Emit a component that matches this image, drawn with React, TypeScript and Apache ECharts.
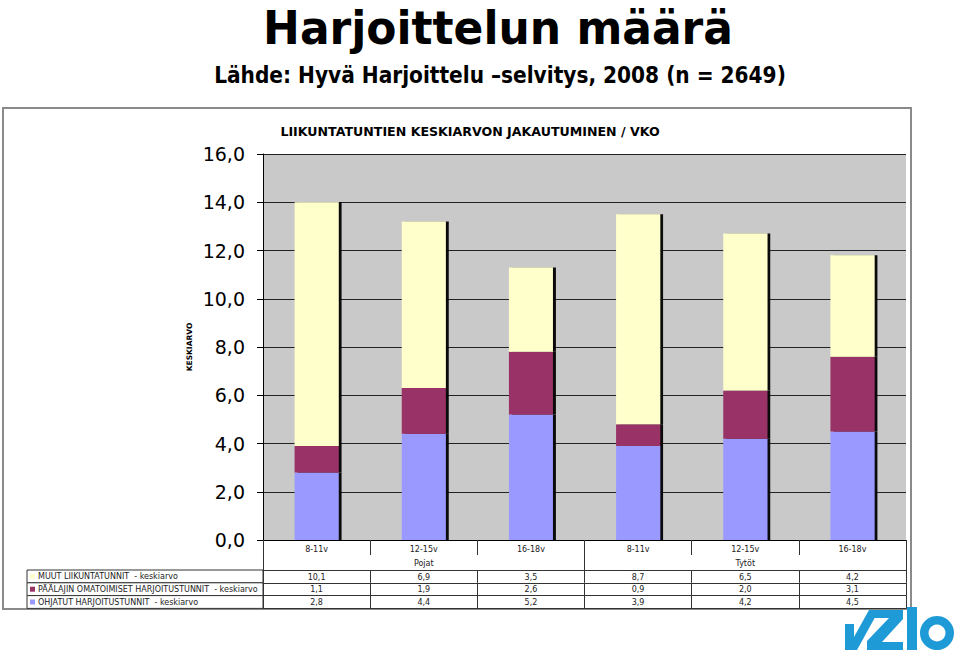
import React, { useEffect, useRef } from 'react';
import * as echarts from 'echarts';

const categories = ['8-11v', '12-15v', '16-18v', '8-11v', '12-15v', '16-18v'];
const groups = ['Pojat', 'Tytöt'];
const seriesNames = [
  'MUUT LIIKUNTATUNNIT  - keskiarvo',
  'PÄÄLAJIN OMATOIMISET HARJOITUSTUNNIT  - keskiarvo',
  'OHJATUT HARJOITUSTUNNIT  - keskiarvo',
];
const seriesColors = ['#FFFFCC', '#993366', '#9999FF'];
const muut = [10.1, 6.9, 3.5, 8.7, 6.5, 4.2];
const paalajin = [1.1, 1.9, 2.6, 0.9, 2.0, 3.1];
const ohjatut = [2.8, 4.4, 5.2, 3.9, 4.2, 4.5];
const tableRows = [muut, paalajin, ohjatut];
const yMin = 0;
const yMax = 16;
const yStep = 2;

const mainTitle = 'Harjoittelun määrä';
const subTitle = 'Lähde: Hyvä Harjoittelu –selvitys, 2008 (n = 2649)';
const chartTitle = 'LIIKUNTATUNTIEN KESKIARVON JAKAUTUMINEN / VKO';
const yName = 'KESKIARVO';

const fmt = (v: number) => v.toFixed(1).replace('.', ',');
const XL = '"DejaVu Sans", Verdana, sans-serif';
const TITLE_FONT = '"DejaVu Sans Condensed", "DejaVu Sans", sans-serif';

export default function App() {
  const ref = useRef<HTMLDivElement>(null);
  useEffect(() => {
    const chart = echarts.init(ref.current!, null, { renderer: 'svg' });
    const barStyle = (color: string) => ({
      color,
      shadowColor: 'rgba(0,0,0,0.95)',
      shadowOffsetX: 3,
      shadowOffsetY: 0,
      shadowBlur: 0,
    });
    const rowTop = 570;
    const rowH = 12.8;
    const tableAxis = (data: number[], i: number) => ({
      type: 'category',
      gridIndex: 0,
      position: 'bottom',
      offset: 30 + i * rowH,
      data: data.map(fmt),
      axisLine: { show: true, lineStyle: { color: '#333', width: 1 } },
      axisTick: { show: true, interval: 0, length: rowH, lineStyle: { color: '#333' } },
      axisLabel: { interval: 0, margin: 3, fontSize: 8, color: '#222', fontFamily: XL },
      splitLine: { show: false },
    });

    const legendGraphics: any[] = [];
    seriesNames.forEach((name, i) => {
      const y = rowTop + i * rowH;
      legendGraphics.push({
        type: 'rect',
        shape: { x: 27, y, width: 236, height: rowH },
        style: { fill: '#fff', stroke: '#333', lineWidth: 1 },
      });
      legendGraphics.push({
        type: 'rect',
        shape: { x: 30, y: y + rowH / 2 - 2.5, width: 5, height: 5 },
        style: { fill: seriesColors[i] },
      });
      legendGraphics.push({
        type: 'text',
        x: 38,
        y: y + rowH / 2,
        style: { text: name, fontSize: 8, fill: '#222', fontFamily: XL, textVerticalAlign: 'middle' },
      });
    });

    const option: any = {
      animation: false,
      backgroundColor: '#ffffff',
      title: [
        {
          text: subTitle,
          left: 495,
          textAlign: 'center',
          top: 59,
          textStyle: { fontSize: 22.4, fontWeight: 'bold', color: '#000', fontFamily: TITLE_FONT },
        },
        {
          text: chartTitle,
          left: 465,
          textAlign: 'center',
          top: 120,
          textStyle: { fontSize: 12.6, fontWeight: 'bold', color: '#000', fontFamily: XL },
        },
      ],
      graphic: [
        {
          type: 'rect',
          z: -10,
          shape: { x: 3, y: 108, width: 908, height: 501 },
          style: { fill: '#fff', stroke: '#8a8a8a', lineWidth: 2 },
        },
        {
          type: 'text',
          x: 498,
          y: 4,
          scaleX: 1.04,
          style: {
            text: mainTitle,
            fontSize: 47,
            lineHeight: 47,
            fontWeight: 'bold',
            fill: '#000',
            fontFamily: TITLE_FONT,
            textAlign: 'center',
            textVerticalAlign: 'top',
          },
        },
        ...legendGraphics,
        {
          type: 'group',
          children: [
            {
              type: 'polygon',
              shape: { points: [[845, 624], [854, 624], [854, 637], [869, 610], [879, 610], [857, 650], [845, 650]] },
              style: { fill: '#1E9AD6' },
            },
            {
              type: 'polygon',
              shape: {
                points: [[872, 610], [903, 610], [903, 619], [882, 642], [903, 642], [903, 650], [867, 650], [867, 641], [889, 618], [872, 618]],
              },
              style: { fill: '#1E9AD6' },
            },
            { type: 'rect', shape: { x: 907, y: 607, width: 10, height: 43 }, style: { fill: '#1E9AD6' } },
            { type: 'ring', shape: { cx: 937, cy: 633, r: 17, r0: 8.5 }, style: { fill: '#1E9AD6' } },
          ],
        },
      ],
      grid: {
        left: 263,
        right: 54,
        top: 154,
        bottom: 118,
        show: true,
        backgroundColor: '#C9C9C9',
        borderWidth: 0,
      },
      xAxis: [
        {
          type: 'category',
          data: categories,
          position: 'bottom',
          axisLine: { show: true, lineStyle: { color: '#000', width: 1 } },
          axisTick: { show: true, interval: 0, length: 15, lineStyle: { color: '#333' } },
          axisLabel: { interval: 0, margin: 5, fontSize: 8, color: '#222', fontFamily: XL },
        },
        {
          type: 'category',
          data: groups,
          position: 'bottom',
          offset: 0,
          axisLine: { show: false },
          axisTick: { show: true, interval: 0, length: 30, lineStyle: { color: '#333' } },
          axisLabel: { interval: 0, margin: 19, fontSize: 8, color: '#222', fontFamily: XL },
        },
        ...tableRows.map((r, i) => tableAxis(r, i)),
        {
          type: 'category',
          data: categories,
          position: 'bottom',
          offset: 30 + 3 * rowH,
          axisLine: { show: true, lineStyle: { color: '#333', width: 1 } },
          axisTick: { show: false },
          axisLabel: { show: false },
        },
      ],
      yAxis: {
        type: 'value',
        min: yMin,
        max: yMax,
        interval: yStep,
        name: yName,
        nameLocation: 'middle',
        nameGap: 70,
        nameMoveOverlap: false,
        nameTextStyle: { fontSize: 7.5, fontWeight: 'bold', color: '#000', fontFamily: XL },
        axisLine: { show: true, lineStyle: { color: '#000', width: 1 } },
        axisTick: { show: true, length: 6, lineStyle: { color: '#000' } },
        axisLabel: { formatter: (v: number) => fmt(v), fontSize: 19, margin: 18, color: '#000', fontFamily: XL },
        splitLine: { show: true, lineStyle: { color: '#222', width: 1.2 } },
      },
      series: [
        {
          name: seriesNames[2],
          type: 'bar',
          stack: 'total',
          barWidth: 44,
          data: ohjatut,
          itemStyle: barStyle(seriesColors[2]),
        },
        {
          name: seriesNames[1],
          type: 'bar',
          stack: 'total',
          barWidth: 44,
          data: paalajin,
          itemStyle: barStyle(seriesColors[1]),
        },
        {
          name: seriesNames[0],
          type: 'bar',
          stack: 'total',
          barWidth: 44,
          data: muut,
          itemStyle: barStyle(seriesColors[0]),
        },
      ],
    };
    chart.setOption(option);
    return () => chart.dispose();
  }, []);
  return (
    <div
      ref={ref}
      style={{ position: 'fixed', left: 0, top: 0, width: 960, height: 658, background: '#fff' }}
    />
  );
}
